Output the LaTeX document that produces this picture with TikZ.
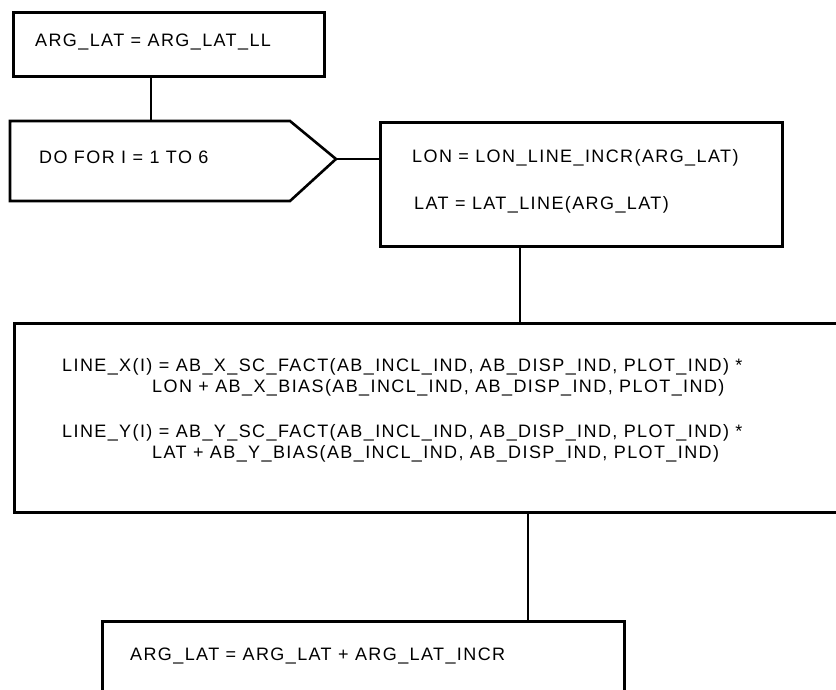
\documentclass[tikz,border=0pt]{standalone}
\usepackage{fontspec}
\newfontfamily\diagfont[LetterSpace=7.8]{Liberation Sans}
\begin{document}
\begin{tikzpicture}[x=1pt,y=-1pt,
  box/.style={draw=black, line width=2.6pt, inner sep=0pt, anchor=north west},
  conn/.style={draw=black, line width=2.4pt},
  lbl/.style={anchor=base west, inner sep=0pt, font=\diagfont\fontsize{18}{21}\selectfont}]
\useasboundingbox (0,0) rectangle (836,689);
\clip (0,0) rectangle (836,689);
\fill[white] (0,0) rectangle (836,689);
% boxes
\node[box, minimum width=311pt, minimum height=64pt] (init) at (12,11) {};
\draw[line width=2.6pt, line join=miter] (10,121) -- (290,121) -- (336,159) -- (290,201) -- (10,201) -- cycle;
\coordinate (looptop) at (151,121);
\coordinate (looptip) at (336,159);
\node[box, minimum width=402pt, minimum height=124pt] (lon) at (379,121) {};
\node[box, minimum width=900pt, minimum height=189pt] (calc) at (13,322) {};
\node[box, minimum width=522pt, minimum height=150pt] (incr) at (101,620) {};
% connectors
\coordinate (cx1) at (151,0);
\coordinate (cx2) at (520,0);
\coordinate (cx3) at (528,0);
\draw[conn] (cx1 |- init.south) -- (looptop);
\draw[conn] (looptip) -- (lon.west |- looptip);
\draw[conn] (cx2 |- lon.south) -- (cx2 |- calc.north);
\draw[conn] (cx3 |- calc.south) -- (cx3 |- incr.north);
% texts
\node[lbl] (t1) at (35,46) {ARG\_LAT = ARG\_LAT\_LL};
\node[lbl] (t2) at (39,163) {DO FOR I = 1 TO 6};
\node[lbl] (t3) at (412,162) {LON = LON\_LINE\_INCR(ARG\_LAT)};
\node[lbl] (t4) at (414,209) {LAT = LAT\_LINE(ARG\_LAT)};
\node[lbl] (t5) at (62,371) {LINE\_X(I) = AB\_X\_SC\_FACT(AB\_INCL\_IND, AB\_DISP\_IND, PLOT\_IND) *};
\node[lbl] (t6) at (152,392) {LON + AB\_X\_BIAS(AB\_INCL\_IND, AB\_DISP\_IND, PLOT\_IND)};
\node[lbl] (t7) at (62,437) {LINE\_Y(I) = AB\_Y\_SC\_FACT(AB\_INCL\_IND, AB\_DISP\_IND, PLOT\_IND) *};
\node[lbl] (t8) at (152,458) {LAT + AB\_Y\_BIAS(AB\_INCL\_IND, AB\_DISP\_IND, PLOT\_IND)};
\node[lbl] (t9) at (130,660) {ARG\_LAT = ARG\_LAT + ARG\_LAT\_INCR};
\end{tikzpicture}
\end{document}
